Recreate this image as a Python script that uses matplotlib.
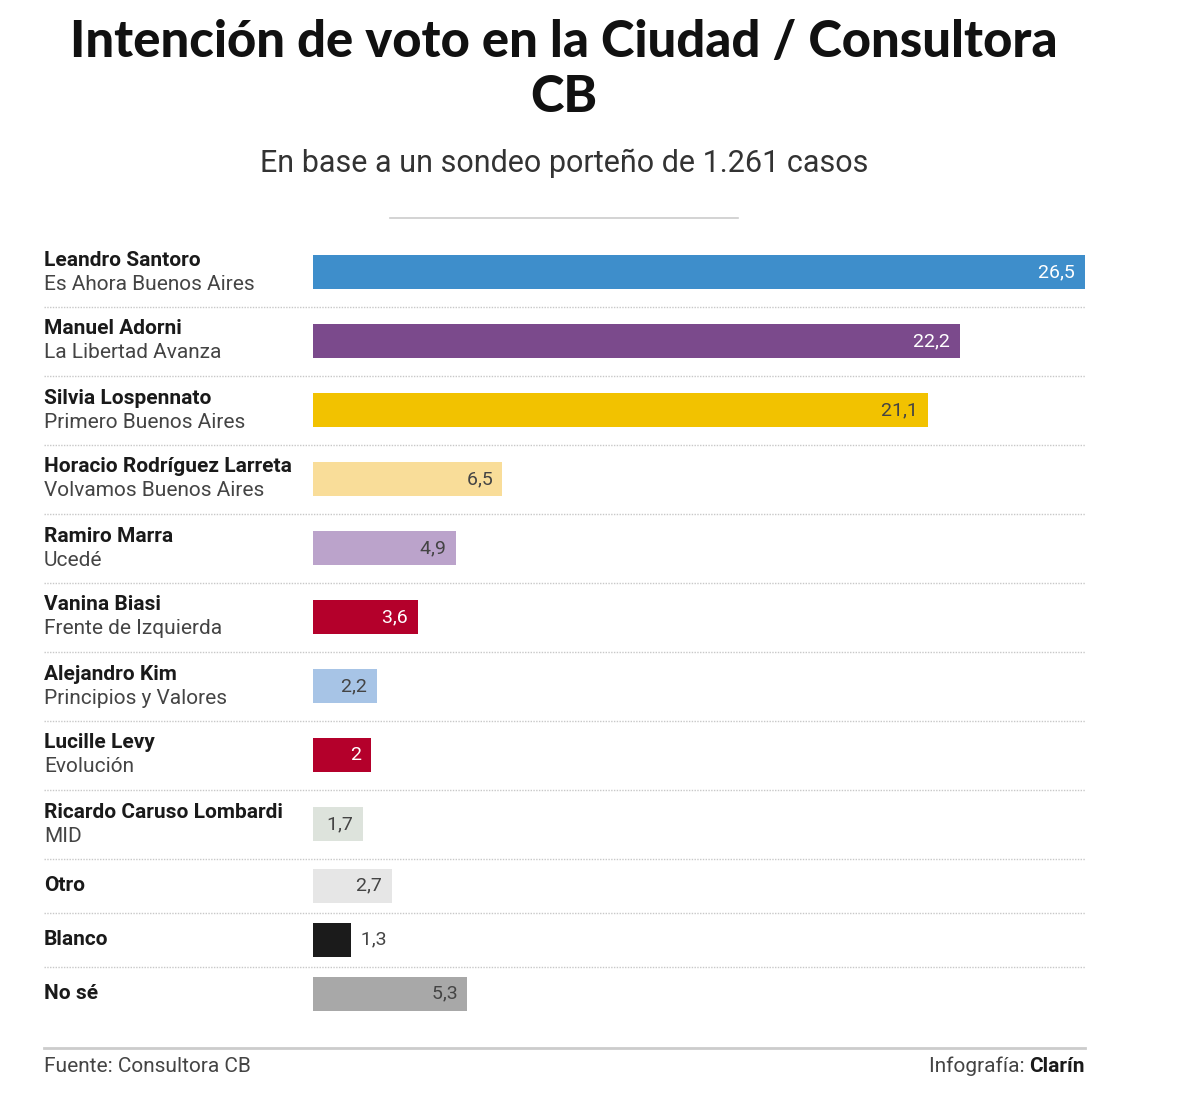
import matplotlib.pyplot as plt
from matplotlib.transforms import blended_transform_factory
from matplotlib.colors import to_rgb

# data
names = ["Leandro Santoro", "Manuel Adorni", "Silvia Lospennato",
         "Horacio Rodríguez Larreta", "Ramiro Marra", "Vanina Biasi",
         "Alejandro Kim", "Lucille Levy", "Ricardo Caruso Lombardi",
         "Otro", "Blanco", "No sé"]
parties = ["Es Ahora Buenos Aires", "La Libertad Avanza", "Primero Buenos Aires",
           "Volvamos Buenos Aires", "Ucedé", "Frente de Izquierda",
           "Principios y Valores", "Evolución", "MID", "", "", ""]
values = [26.5, 22.2, 21.1, 6.5, 4.9, 3.6, 2.2, 2, 1.7, 2.7, 1.3, 5.3]
colors = ["#3e8ecb", "#7b4a8c", "#f2c200", "#f9dd99", "#bba3cb", "#b4002b",
          "#a7c4e6", "#b4002b", "#dde3dc", "#e6e6e6", "#1b1b1b", "#a8a8a8"]

W, H = 1200, 1115
plt.rcParams['font.family'] = ['Roboto', 'DejaVu Sans']

fig = plt.figure(figsize=(W / 100, H / 100), dpi=100)
ax = fig.add_axes([313 / W, 0, 772 / W, 1])
ax.set_xlim(0, 26.5)
ax.set_ylim(H, 0)
ax.axis('off')
trans = blended_transform_factory(fig.transFigure, ax.transData)

# row centres: two-line rows are taller than single-line rows
ys = []
seps = []
top = 237.5
for p in parties:
    h = 69 if p else 54
    ys.append(top + h / 2)
    top += h
    seps.append(top)

ax.barh(ys, values, height=34, color=colors)


def fmt(v):
    return ("%g" % v).replace(".", ",")


for y, v, c in zip(ys, values, colors):
    r, g, b = to_rgb(c)
    lum = 0.299 * r + 0.587 * g + 0.114 * b
    if v < 1.5:
        ax.text(v, y, "  " + fmt(v), ha='left', va='center', fontsize=14,
                color='#444444')
    else:
        tc = 'white' if lum < 0.6 else '#444444'
        ax.text(v, y, fmt(v) + "  ", ha='right', va='center', fontsize=14,
                color=tc)

for y, n, p in zip(ys, names, parties):
    if p:
        fig.text(44 / W, 0, n, transform=trans, fontsize=15, fontweight='bold',
                 color='#1a1a1a', va='center')
        fig.texts[-1].set_y(y - 12)
        fig.text(44 / W, 0, p, transform=trans, fontsize=15, color='#444444',
                 va='center')
        fig.texts[-1].set_y(y + 12)
    else:
        fig.text(44 / W, 0, n, transform=trans, fontsize=15, fontweight='bold',
                 color='#1a1a1a', va='center')
        fig.texts[-1].set_y(y)

# dotted separators
for s in seps[:-1]:
    ax.plot([44 / W, 1085 / W], [s, s], transform=trans, color='#c8c8c8',
            lw=1, ls=(0, (1, 1)), clip_on=False)

# title block
fig.text(564 / W, 1 - 42 / H, "Intención de voto en la Ciudad / Consultora",
         ha='center', va='center', fontsize=36.5, fontweight='black',
         family=['Lato', 'DejaVu Sans'], color='#111111')
fig.text(564 / W, 1 - 97 / H, "CB", ha='center', va='center', fontsize=36.5,
         fontweight='black', family=['Lato', 'DejaVu Sans'], color='#111111')
fig.text(564 / W, 1 - 163 / H, "En base a un sondeo porteño de 1.261 casos",
         ha='center', va='center', fontsize=22, color='#333333')
fig.add_artist(plt.Line2D([390 / W, 738 / W], [1 - 218 / H, 1 - 218 / H],
                          color='#cccccc', lw=1.2))

# footer
fig.add_artist(plt.Line2D([44 / W, 1085 / W], [1 - 1048 / H, 1 - 1048 / H],
                          color='#cccccc', lw=2))
fig.text(44 / W, 1 - 1066 / H, "Fuente: Consultora CB", fontsize=15,
         color='#444444', va='center')
cl = fig.text(1085 / W, 1 - 1072 / H, "Clarín", fontsize=15, fontweight='bold',
              color='#1a1a1a', ha='right', va='baseline')
rend = fig.canvas.get_renderer()
bb = cl.get_window_extent(rend)
fig.text(bb.x0 / W, 1 - 1072 / H, "Infografía: ", fontsize=15, color='#444444',
         ha='right', va='baseline')

fig.savefig("out.png", dpi=100)
